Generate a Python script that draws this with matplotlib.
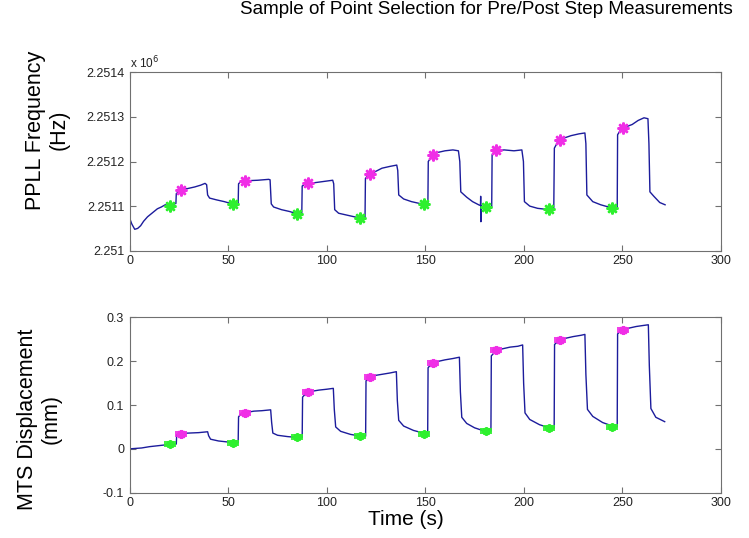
#!/usr/bin/env python3
"""Pre/post step point selection: PPLL frequency and MTS displacement
traces with the picked pre-step (green) and post-step (magenta) samples.

Output:
  out.png
"""

import matplotlib
matplotlib.use("Agg")
import matplotlib.pyplot as plt
from matplotlib.ticker import FuncFormatter

# --- PPLL frequency trace (s, Hz) -------------------------------------------
freq_t = [0, 1, 2.5, 4, 5.5, 7, 9, 11.5, 14, 16, 18, 20, 22, 23.4,
          23.6, 25, 27, 30, 33, 36, 38.2, 39, 39.5, 40.5, 44, 48, 52, 55,
          55.2, 56.5, 60, 65, 70.5, 71.2, 71.8, 73, 77, 81, 84.7, 87.3,
          87.5, 89, 93, 98, 103, 103.5, 104, 106, 110, 114, 117, 119.4,
          119.6, 121, 124, 128, 132, 135.5, 136, 136.5, 139, 143, 147, 151.3,
          151.5, 153, 156, 160, 164, 166.8, 167.5, 168, 171, 174, 177.5,
          178.0, 178.1, 178.2, 178.3, 181, 183.7,
          183.9, 185.5, 190, 195, 199, 199.8, 200.3, 203, 207, 211, 215.2,
          215.5, 217, 220, 224, 228, 231, 231.5, 232, 235, 239, 243, 247.4,
          247.6, 249, 252, 255, 258, 261, 263, 263.5, 264, 266, 269, 271.7]
freq_hz = [2251072, 2251060, 2251048, 2251050, 2251056, 2251066, 2251076,
           2251085, 2251094, 2251098, 2251103, 2251100, 2251104, 2251106,
           2251128, 2251133, 2251137, 2251140, 2251143, 2251147, 2251151,
           2251148, 2251125, 2251118, 2251114, 2251110, 2251105, 2251104,
           2251150, 2251156, 2251157, 2251158, 2251160, 2251159, 2251105,
           2251098, 2251092, 2251088, 2251083, 2251085,
           2251145, 2251150, 2251152, 2251155, 2251158, 2251150, 2251092,
           2251084, 2251080, 2251076, 2251073, 2251075,
           2251162, 2251170, 2251176, 2251185, 2251189, 2251192, 2251180,
           2251125, 2251116, 2251110, 2251106, 2251104,
           2251200, 2251210, 2251220, 2251224, 2251226, 2251224, 2251200,
           2251132, 2251120, 2251110, 2251102,
           2251102, 2251122, 2251065, 2251100, 2251097, 2251098,
           2251215, 2251224, 2251226, 2251224, 2251226, 2251200, 2251110,
           2251100, 2251095, 2251093, 2251094,
           2251230, 2251242, 2251252, 2251258, 2251262, 2251264, 2251240,
           2251125, 2251110, 2251103, 2251098, 2251095,
           2251260, 2251270, 2251278, 2251283, 2251292, 2251298, 2251296,
           2251240, 2251132, 2251122, 2251108, 2251103]

# --- MTS displacement trace (s, mm) -----------------------------------------
disp_t = [0, 3, 6, 10, 14, 18, 21, 23.6,
          23.8, 25, 30, 35, 39.5, 40, 41, 45, 49, 53, 55,
          55.2, 56.5, 59, 63, 67, 71.5, 72, 72.6, 75, 80, 85, 87.5,
          87.7, 89.5, 92, 96, 100, 103.3, 103.8, 104.5, 107, 112, 117, 119.7,
          119.9, 121.5, 124, 128, 132, 135.3, 135.8, 136.5, 139, 144, 149, 151.2,
          151.4, 153, 156, 160, 164, 167.3, 167.8, 168.5, 171, 175, 179, 183.3,
          183.5, 185.5, 189, 193, 197, 199.4, 199.9, 200.6, 203, 208, 213, 215.4,
          215.6, 217.5, 221, 225, 229, 231, 231.5, 232.3, 235, 240, 245, 247.4,
          247.6, 249.5, 253, 257, 260, 263.2, 263.7, 264.5, 267, 271.5]
disp_mm = [0.000, 0.001, 0.002, 0.005, 0.007, 0.009, 0.010, 0.011,
           0.032, 0.035, 0.036, 0.037, 0.039, 0.030, 0.022, 0.018, 0.016,
           0.014, 0.014,
           0.073, 0.080, 0.083, 0.086, 0.087, 0.089, 0.060, 0.036, 0.031,
           0.028, 0.026, 0.026,
           0.118, 0.127, 0.131, 0.134, 0.136, 0.138, 0.090, 0.050, 0.040,
           0.033, 0.029, 0.029,
           0.155, 0.163, 0.167, 0.170, 0.173, 0.176, 0.110, 0.065, 0.052,
           0.042, 0.036, 0.035,
           0.185, 0.193, 0.199, 0.203, 0.206, 0.209, 0.130, 0.072, 0.058,
           0.048, 0.042, 0.040,
           0.212, 0.222, 0.228, 0.232, 0.234, 0.237, 0.150, 0.082, 0.067,
           0.055, 0.048, 0.047,
           0.238, 0.246, 0.252, 0.256, 0.259, 0.261, 0.170, 0.090, 0.074,
           0.060, 0.052, 0.050,
           0.262, 0.271, 0.275, 0.279, 0.281, 0.283, 0.190, 0.092, 0.072,
           0.062]

# --- selected points ---------------------------------------------------------
pre_t = [20.5, 52.5, 85, 117, 149.5, 181, 213, 245]
post_t = [26, 58.5, 90.5, 122, 154, 186, 218.5, 250.5]
pre_hz = [2251100, 2251104, 2251083, 2251073, 2251104, 2251097, 2251093, 2251096]
post_hz = [2251135, 2251157, 2251151, 2251173, 2251215, 2251226, 2251248, 2251276]
pre_mm = [0.010, 0.014, 0.026, 0.029, 0.035, 0.041, 0.047, 0.050]
post_mm = [0.035, 0.082, 0.129, 0.165, 0.196, 0.225, 0.248, 0.271]

freq_ticks = [2251000, 2251100, 2251200, 2251300, 2251400]
disp_ticks = [-0.1, 0, 0.1, 0.2, 0.3]
time_ticks = [0, 50, 100, 150, 200, 250, 300]

TRACE = "#1c1c9c"
PRE = "#2ef02e"
POST = "#f02ee6"
STAR = (8, 2, 0)
# wide flat blob for the low-noise displacement clusters
FLAT = [(-1.0, -0.55), (1.0, -0.55), (1.0, 0.55), (-1.0, 0.55), (-1.0, -0.55)]

plt.rcParams["font.family"] = ["Liberation Sans", "DejaVu Sans"]


def style_axes(ax):
    for s in ax.spines.values():
        s.set_color("#707070")
        s.set_linewidth(0.8)
    ax.tick_params(direction="in", top=True, right=True, length=4,
                   width=0.8, color="#707070", labelsize=9,
                   labelcolor="#222222")
    ax.tick_params(axis="x", pad=3)
    ax.tick_params(axis="y", pad=4)
    ax.set_xlim(0, 300)
    ax.set_xticks(time_ticks)


def blobs(ax, t, v, color, core, core_size, star_size):
    ax.plot(t, v, linestyle="none", marker=core, markersize=core_size,
            markeredgewidth=0, color=color, alpha=0.9)
    ax.plot(t, v, linestyle="none", marker=STAR, markersize=star_size,
            markeredgewidth=1.6, color=color)


fig = plt.figure(figsize=(7.49, 5.38), dpi=100)
ax1 = fig.add_axes([0.1733, 0.534, 0.7891, 0.3316])
ax2 = fig.add_axes([0.1733, 0.0842, 0.7891, 0.326])

# top: frequency
ax1.plot(freq_t, freq_hz, color=TRACE, linewidth=1.0)
blobs(ax1, pre_t, pre_hz, PRE, "o", 6.5, 8.5)
blobs(ax1, post_t, post_hz, POST, "o", 6.5, 8.5)
style_axes(ax1)
ax1.set_ylim(2251000, 2251400)
ax1.set_yticks(freq_ticks)
ax1.yaxis.set_major_formatter(FuncFormatter(lambda v, p: f"{v / 1e6:g}"))
ax1.text(0.0, 1.025, r"x 10$^6$", transform=ax1.transAxes, fontsize=8.5,
         color="#222222", ha="left", va="baseline")
ax1.set_ylabel("PPLL Frequency\n(Hz)", fontsize=15.5)
ax1.yaxis.set_label_coords(-0.101, 0.677)

# bottom: displacement
ax2.plot(disp_t, disp_mm, color=TRACE, linewidth=1.0)
blobs(ax2, pre_t, pre_mm, PRE, FLAT, 8, 6)
blobs(ax2, post_t, post_mm, POST, FLAT, 8, 6.5)
style_axes(ax2)
ax2.set_ylim(-0.1, 0.3)
ax2.set_yticks(disp_ticks)
ax2.yaxis.set_major_formatter(FuncFormatter(lambda v, p: f"{v:g}"))
ax2.set_ylabel("MTS Displacement\n(mm)", fontsize=15.5)
ax2.yaxis.set_label_coords(-0.115, 0.42)
ax2.set_xlabel("Time (s)", fontsize=15)
ax2.xaxis.set_label_coords(0.467, -0.1)

fig.text(733 / 749, 1 - 14 / 538,
         "Sample of Point Selection for Pre/Post Step Measurements",
         fontsize=13.6, ha="right", va="baseline")

fig.savefig("out.png", dpi=100)
